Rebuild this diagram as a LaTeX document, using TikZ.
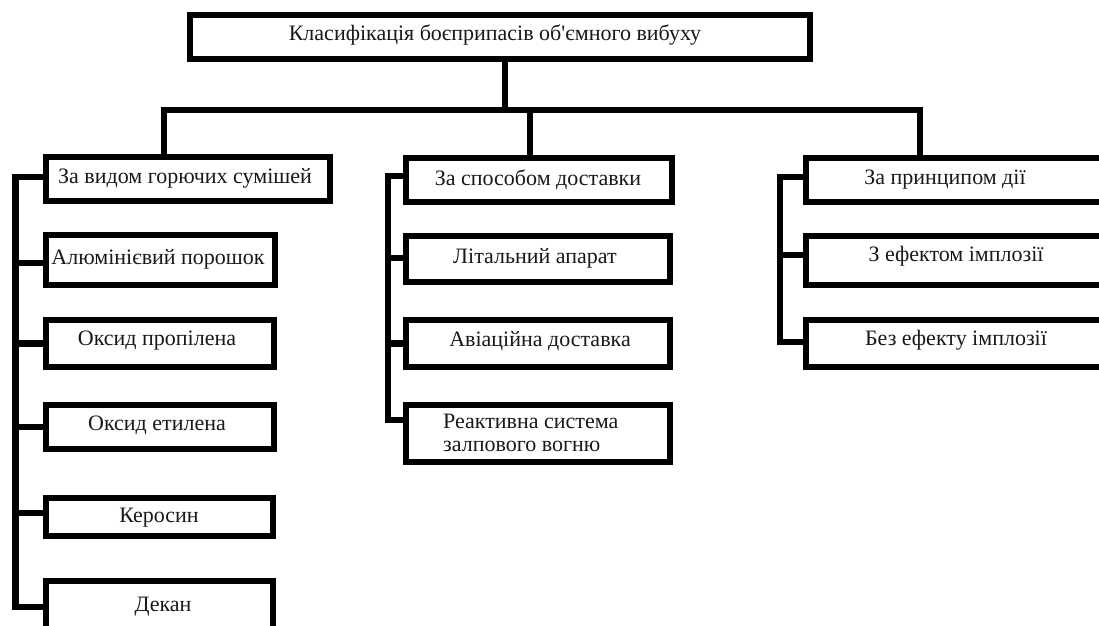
\documentclass[tikz,border=0pt]{standalone}
\usepackage{fontspec}
\setmainfont{Liberation Serif}
\newfontfamily\plainserif{Liberation Serif}
\begin{document}
\begin{tikzpicture}[x=1pt,y=-1pt,
  box/.style={draw=black,line width=6.5pt,fill=white,inner sep=0pt,outer sep=0pt,
    font=\fontsize{22}{24}\selectfont,text=black!90},
  lbl/.style={font=\fontsize{22}{24}\selectfont,text=black!90,inner sep=0pt},
  conn/.style={draw=black,line width=6.5pt,line join=miter,line cap=rect}]
\useasboundingbox (0,0) rectangle (1099,625);
\clip (0,0) rectangle (1099,625);
% top
\node[box,minimum width=620,minimum height=44] (T) at (500,37) {};
\node[lbl] (Tt) at (495,35) {Класифікація боєприпасів об{\plainserif '}ємного вибуху};
% left column
\node[box,minimum width=284,minimum height=44] (L0) at (188,179) {};
\node[lbl] (L0t) at (185,178) {За видом горючих сумішей};
\node[box,minimum width=229,minimum height=50] (L1) at (160.5,260) {};
\node[lbl] (L1t) at (158,259) {Алюмінієвий порошок};
\node[box,minimum width=228,minimum height=47] (L2) at (160,343.5) {};
\node[lbl] (L2t) at (157,341) {Оксид пропілена};
\node[box,minimum width=228,minimum height=44] (L3) at (160,427) {};
\node[lbl] (L3t) at (157,425) {Оксид етилена};
\node[box,minimum width=227,minimum height=38] (L4) at (159.5,517) {};
\node[lbl] (L4t) at (159,518) {Керосин};
\node[box,minimum width=227,minimum height=52] (L5) at (159.5,607) {};
\node[lbl] (L5t) at (163,607) {Декан};
% middle column
\node[box,minimum width=266,minimum height=44] (M0) at (539,180) {};
\node[lbl] (M0t) at (538,180) {За способом доставки};
\node[box,minimum width=264,minimum height=46] (M1) at (538,259) {};
\node[lbl] (M1t) at (535,258) {Літальний апарат};
\node[box,minimum width=264,minimum height=47] (M2) at (538,343.5) {};
\node[lbl] (M2t) at (540,341) {Авіаційна доставка};
\node[box,minimum width=264,minimum height=57] (M3) at (538,433.5) {};
\node[lbl,align=left,anchor=west] (M3t) at (443,433) {Реактивна система\\[-1pt]залпового вогню};
% right column
\node[box,minimum width=301,minimum height=44] (R0) at (956.5,180) {};
\node[lbl] (R0t) at (945,180) {За принципом дії};
\node[box,minimum width=301,minimum height=49] (R1) at (956.5,260.5) {};
\node[lbl] (R1t) at (956,256) {З ефектом імплозії};
\node[box,minimum width=301,minimum height=47] (R2) at (956.5,343.5) {};
\node[lbl] (R2t) at (956,340) {Без ефекту імплозії};
% tree connectors
\coordinate (tb) at (505,110);
\coordinate (b1) at (164,110);
\coordinate (b2) at (530,110);
\coordinate (b3) at (920,110);
\draw[conn] (tb |- T.south) -- (tb);
\draw[conn] (L0.north -| b1) -- (b1) -- (b3) -- (R0.north -| b3);
\draw[conn] (b2) -- (M0.north -| b2);
% left spine
\coordinate (ls1) at (15.5,177);
\coordinate (ls2) at (15.5,607);
\draw[conn] ([yshift=2pt]L0.west) -- (ls1) -- (ls2) -- (L5.west |- ls2);
\draw[conn] ([yshift=-3pt]L1.west) -- ([yshift=-3pt]L1.west -| ls1);
\draw[conn] (L2.west) -- (L2.west -| ls1);
\draw[conn] (L3.west) -- (L3.west -| ls1);
\draw[conn] ([yshift=4pt]L4.west) -- ([yshift=4pt]L4.west -| ls1);
% middle spine
\coordinate (ms1) at (388,176);
\coordinate (ms2) at (388,420);
\draw[conn] ([yshift=4pt]M0.west) -- (ms1) -- (ms2) -- (M3.west |- ms2);
\draw[conn] ([yshift=1pt]M1.west) -- ([yshift=1pt]M1.west -| ms1);
\draw[conn] (M2.west) -- (M2.west -| ms1);
% right spine
\coordinate (rs1) at (780,177);
\coordinate (rs2) at (780,342);
\draw[conn] ([yshift=3pt]R0.west) -- (rs1) -- (rs2) -- (R2.west |- rs2);
\draw[conn] ([yshift=5.5pt]R1.west) -- ([yshift=5.5pt]R1.west -| rs1);
\end{tikzpicture}
\end{document}
